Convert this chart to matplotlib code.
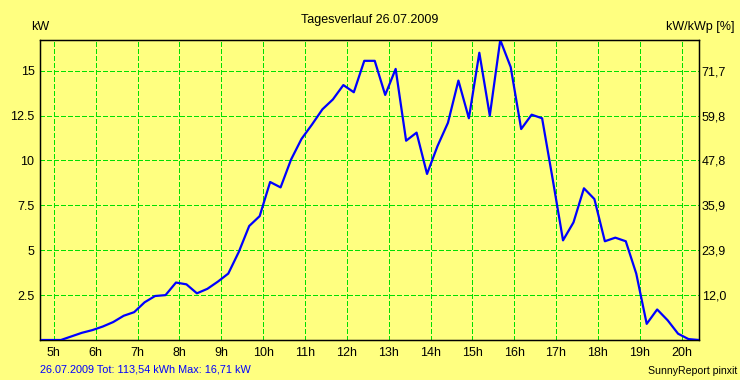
import matplotlib
matplotlib.use("Agg")
import matplotlib.pyplot as plt
import numpy as np

plt.rcParams['font.family'] = ['Liberation Sans', 'DejaVu Sans']
plt.rcParams['font.size'] = 9

# data: 15 min values, kW
times = ["04:40", "04:55", "05:10", "05:25", "05:40", "05:55", "06:10", "06:25",
         "06:40", "06:55", "07:10", "07:25", "07:40", "07:55", "08:10", "08:25",
         "08:40", "08:55", "09:10", "09:25", "09:40", "09:55", "10:10", "10:25",
         "10:40", "10:55", "11:10", "11:25", "11:40", "11:55", "12:10", "12:25",
         "12:40", "12:55", "13:10", "13:25", "13:40", "13:55", "14:10", "14:25",
         "14:40", "14:55", "15:10", "15:25", "15:40", "15:55", "16:10", "16:25",
         "16:40", "16:55", "17:10", "17:25", "17:40", "17:55", "18:10", "18:25",
         "18:40", "18:55", "19:10", "19:25", "19:40", "19:55", "20:10", "20:25"]
power = [0.0, 0.0, 0.0, 0.2, 0.4, 0.55, 0.75, 1.0,
         1.35, 1.55, 2.1, 2.45, 2.5, 3.2, 3.1, 2.6,
         2.85, 3.25, 3.7, 4.9, 6.35, 6.9, 8.8, 8.5,
         10.05, 11.2, 12.0, 12.85, 13.4, 14.2, 13.8, 15.55,
         15.55, 13.65, 15.1, 11.1, 11.55, 9.25, 10.8, 12.1,
         14.45, 12.35, 16.0, 12.5, 16.71, 15.2, 11.75, 12.55,
         12.35, 9.0, 5.55, 6.55, 8.45, 7.85, 5.5, 5.7,
         5.5, 3.7, 0.9, 1.7, 1.1, 0.35, 0.05, 0.0]
kwp = 20.91
y_ticks = [2.5, 5, 7.5, 10, 12.5, 15]
y_labels = ["2.5", "5", "7.5", "10", "12.5", "15"]
hours = list(range(5, 21))

def to_hours(s):
  h, m = s.split(":")
  return int(h) + int(m) / 60.0

t = np.array([to_hours(s) for s in times])

bg = '#ffff80'
fig = plt.figure(figsize=(7.4, 3.8), dpi=100, facecolor=bg)
ax = fig.add_axes([40/740, 1-340/380, 659/740, 300/380], facecolor=bg)

ax.plot(t, power, color='#0000ff', lw=1.6, zorder=3)
ax.set_xlim(t[0], t[-1])
ax.set_ylim(0, max(power))

ax.set_xticks(hours)
ax.set_xticklabels([f"{h}h" for h in hours])
ax.set_yticks(y_ticks)
ax.set_yticklabels(y_labels)
ax.tick_params(length=0)
ax.tick_params(axis='x', pad=5)
ax.tick_params(axis='y', pad=4)
ax.grid(True, color='#00e000', lw=1.0, dashes=(3, 1.5), antialiased=False)
for sp in ax.spines.values():
  sp.set_linewidth(1.0)
  sp.set_color('black')

# right axis in percent of kWp
ax2 = ax.twinx()
ax2.set_ylim(ax.get_ylim())
ax2.set_yticks(y_ticks)
ax2.set_yticklabels([f"{v / kwp * 100:.1f}".replace('.', ',') for v in y_ticks])
ax2.tick_params(length=0, pad=2)

def ftext(x, y, s, **kw):
  fig.text(x/740, 1-y/380, s, va='center', **kw)

ftext(370, 20, "Tagesverlauf 26.07.2009", ha='center')
ftext(40, 27, "kW", ha='center')
ftext(700, 27, "kW/kWp [%]", ha='center')
ftext(40, 369, "26.07.2009 Tot: 113,54 kWh Max: 16,71 kW", ha='left', color='#0000ff', fontsize=7.8)
ftext(737, 371, "SunnyReport pinxit", ha='right', fontsize=7.6)

fig.savefig("out.png", dpi=100, facecolor=bg)
